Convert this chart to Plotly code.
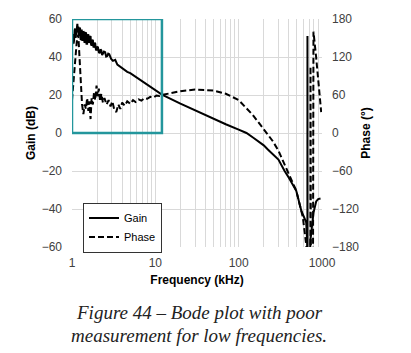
import plotly.graph_objects as go

# ---------------- data ----------------
gain_freq_khz = [1.00, 1.015, 1.03, 1.045, 1.06, 1.075, 1.09, 1.105, 1.12, 1.14, 1.16, 1.175,
                 1.19, 1.205, 1.22, 1.235, 1.25, 1.265, 1.28, 1.295, 1.31, 1.33, 1.35, 1.37,
                 1.39, 1.41, 1.43, 1.45, 1.47, 1.495, 1.52, 1.545, 1.57, 1.595, 1.62, 1.645,
                 1.67, 1.695, 1.72, 1.75, 1.78, 1.81, 1.84, 1.87, 1.90, 1.935, 1.97, 2.01,
                 2.05, 2.1, 2.15, 2.2, 2.25, 2.3, 2.35, 2.42, 2.5, 2.57, 2.65, 2.72, 2.8, 2.87,
                 2.95, 3.1, 3.3, 3.5, 3.75, 4.0, 4.3, 4.6, 5.0, 5.4,
                 5.8, 6.3, 6.8, 7.4, 8.0, 8.7, 9.5, 10.3, 11.2, 12,
                 20, 30, 40, 50, 70, 100, 124, 150, 200, 224, 300, 356, 400, 491, 564, 646,
                 662, 668, 669, 671, 700, 728, 790, 851, 900, 960]
gain_db = [46, 50, 52, 47, 49, 54, 55, 50, 52, 56, 57.5, 53, 56, 51, 52, 55.5, 55, 49.5,
           49, 54, 54, 48.5, 50, 53.5, 53, 47.5, 48, 52.5, 53, 47, 47, 51.5, 52, 47.5, 48,
           50.5, 51, 46.5, 46, 48.5, 49, 45, 45.5, 47.5, 47, 44, 43.5, 45.5,
           45, 42.5, 42, 44, 43.5, 41, 41.5, 42.8, 42.5, 40.2, 40.5, 41.8, 41.5, 39.5,
           39, 38, 38.5, 36, 35, 34.2, 33.2, 32.2, 31.5, 30.5,
           29.5, 28.3, 27.2, 26.2, 25.2, 24, 22.8, 21.8, 20.9, 20.2,
           15.5, 12, 9.3, 7.3, 4.6, 1.8, 0, -2.5, -6.5, -8.7, -14, -20, -23.5, -30.4, -40.8, -47,
           -56, -68, 51, -68, -75, -56, -42, -36, -34.8, -34.5]

phase_freq_khz = [1.00, 1.05, 1.10, 1.15, 1.19, 1.22, 1.27, 1.32, 1.37, 1.42, 1.47, 1.52, 1.57,
                  1.62, 1.67, 1.72, 1.78, 1.84, 1.90, 1.97, 2.03, 2.10, 2.17, 2.25, 2.35, 2.45,
                  2.6, 2.75, 2.9, 3.05, 3.2, 3.4, 3.6, 3.8, 4.0, 4.3, 4.6, 5.0, 5.4, 5.8, 6.3,
                  6.8, 7.4, 8.0, 8.7, 9.5, 10.3, 11.2, 12,
                  20, 30, 50, 70, 85.5, 100, 148, 200, 224, 257, 300, 373, 491, 589, 620, 646,
                  680, 715, 726, 728, 735, 780, 790, 850, 891, 935, 978]
phase_deg = [52, 90, 125, 150, 155, 130, 80, 45, 30, 45, 38, 55, 35,
             50, 22, 55, 45, 65, 52, 75, 58, 70, 50, 62, 48, 55,
             45, 52, 42, 50, 38, 33, 45, 38, 48, 43, 50, 46, 52, 49, 53,
             51, 55, 54, 57, 56, 59, 58.5, 60,
             66, 68.5, 67, 62, 57, 52, 28.4, 6, -3, -13, -28, -55, -91, -133, -155, -180,
             -200, -205, -205, 105, -205, -205, 160, 120, 88, 60, 33]

x_tick_vals = [1, 10, 100, 1000]
x_tick_text = ["1", "10", "100", "1000"]
gain_ticks = [-60, -40, -20, 0, 20, 40, 60]
phase_ticks = [-180, -120, -60, 0, 60, 120, 180]
highlight_box = dict(f_lo=1, f_hi=12, g_lo=0, g_hi=60)

# ---------------- figure ----------------
grid_vals = [m * 10 ** d for d in range(0, 3) for m in range(1, 10)] + [1000]
grid_text = [str(v) if v in x_tick_vals else "" for v in grid_vals]

fig = go.Figure()
fig.add_trace(go.Scatter(x=gain_freq_khz, y=gain_db, mode="lines", name="Gain",
                         line=dict(color="black", width=2)))
fig.add_trace(go.Scatter(x=phase_freq_khz, y=phase_deg, mode="lines", name="Phase",
                         yaxis="y2", line=dict(color="black", width=2, dash="6px,3px")))

fig.add_shape(type="rect", xref="x", yref="y",
              x0=highlight_box["f_lo"], x1=highlight_box["f_hi"],
              y0=highlight_box["g_lo"], y1=highlight_box["g_hi"],
              line=dict(color="#23969c", width=2.5), fillcolor="rgba(0,0,0,0)")

tick_font = dict(family="Liberation Sans, Arial", size=12, color="#404040")
title_font = dict(family="Liberation Sans, Arial", size=12, color="black")

fig.update_layout(
    width=411, height=353,
    margin=dict(l=72, r=89, t=16, b=106),
    paper_bgcolor="white", plot_bgcolor="white",
    showlegend=True,
    legend=dict(x=0.044, y=0.195, xanchor="left", yanchor="top",
                bgcolor="white", bordercolor="#333333", borderwidth=1,
                font=dict(family="Liberation Sans, Arial", size=11, color="black"),
                tracegroupgap=0, itemwidth=30),
    xaxis=dict(type="log", range=[0, 3], tickvals=grid_vals, ticktext=grid_text,
               showgrid=True, gridcolor="#d9d9d9", gridwidth=1, zeroline=False,
               showline=False, ticks="", tickfont=tick_font, ticklabelstandoff=7,
               title=dict(text="<b>Frequency (kHz)</b>", font=title_font, standoff=6)),
    yaxis=dict(range=[-60, 60], tickvals=gain_ticks, showgrid=True, gridcolor="#d9d9d9",
               zeroline=False, showline=False, ticks="", tickfont=tick_font,
               ticklabelstandoff=9,
               title=dict(text="<b>Gain (dB)</b>", font=title_font, standoff=3)),
    yaxis2=dict(range=[-180, 180], tickvals=phase_ticks, overlaying="y", side="right",
                showgrid=False, zeroline=False, showline=False, ticks="", tickfont=tick_font,
                ticklabelstandoff=9,
                title=dict(text="<b>Phase (°)</b>", font=title_font, standoff=3)),
)

cap_font = dict(family="Liberation Serif, Times New Roman", size=19, color="#222222")
fig.add_annotation(text="<i>Figure 44 – Bode plot with poor</i>", xref="paper", yref="paper",
                   x=0.508, y=-0.2857, xanchor="center", yanchor="middle", showarrow=False,
                   font=cap_font)
fig.add_annotation(text="<i>measurement for low frequencies.</i>", xref="paper", yref="paper",
                   x=0.508, y=-0.39, xanchor="center", yanchor="middle", showarrow=False,
                   font=cap_font)

fig.write_html("out.html")
